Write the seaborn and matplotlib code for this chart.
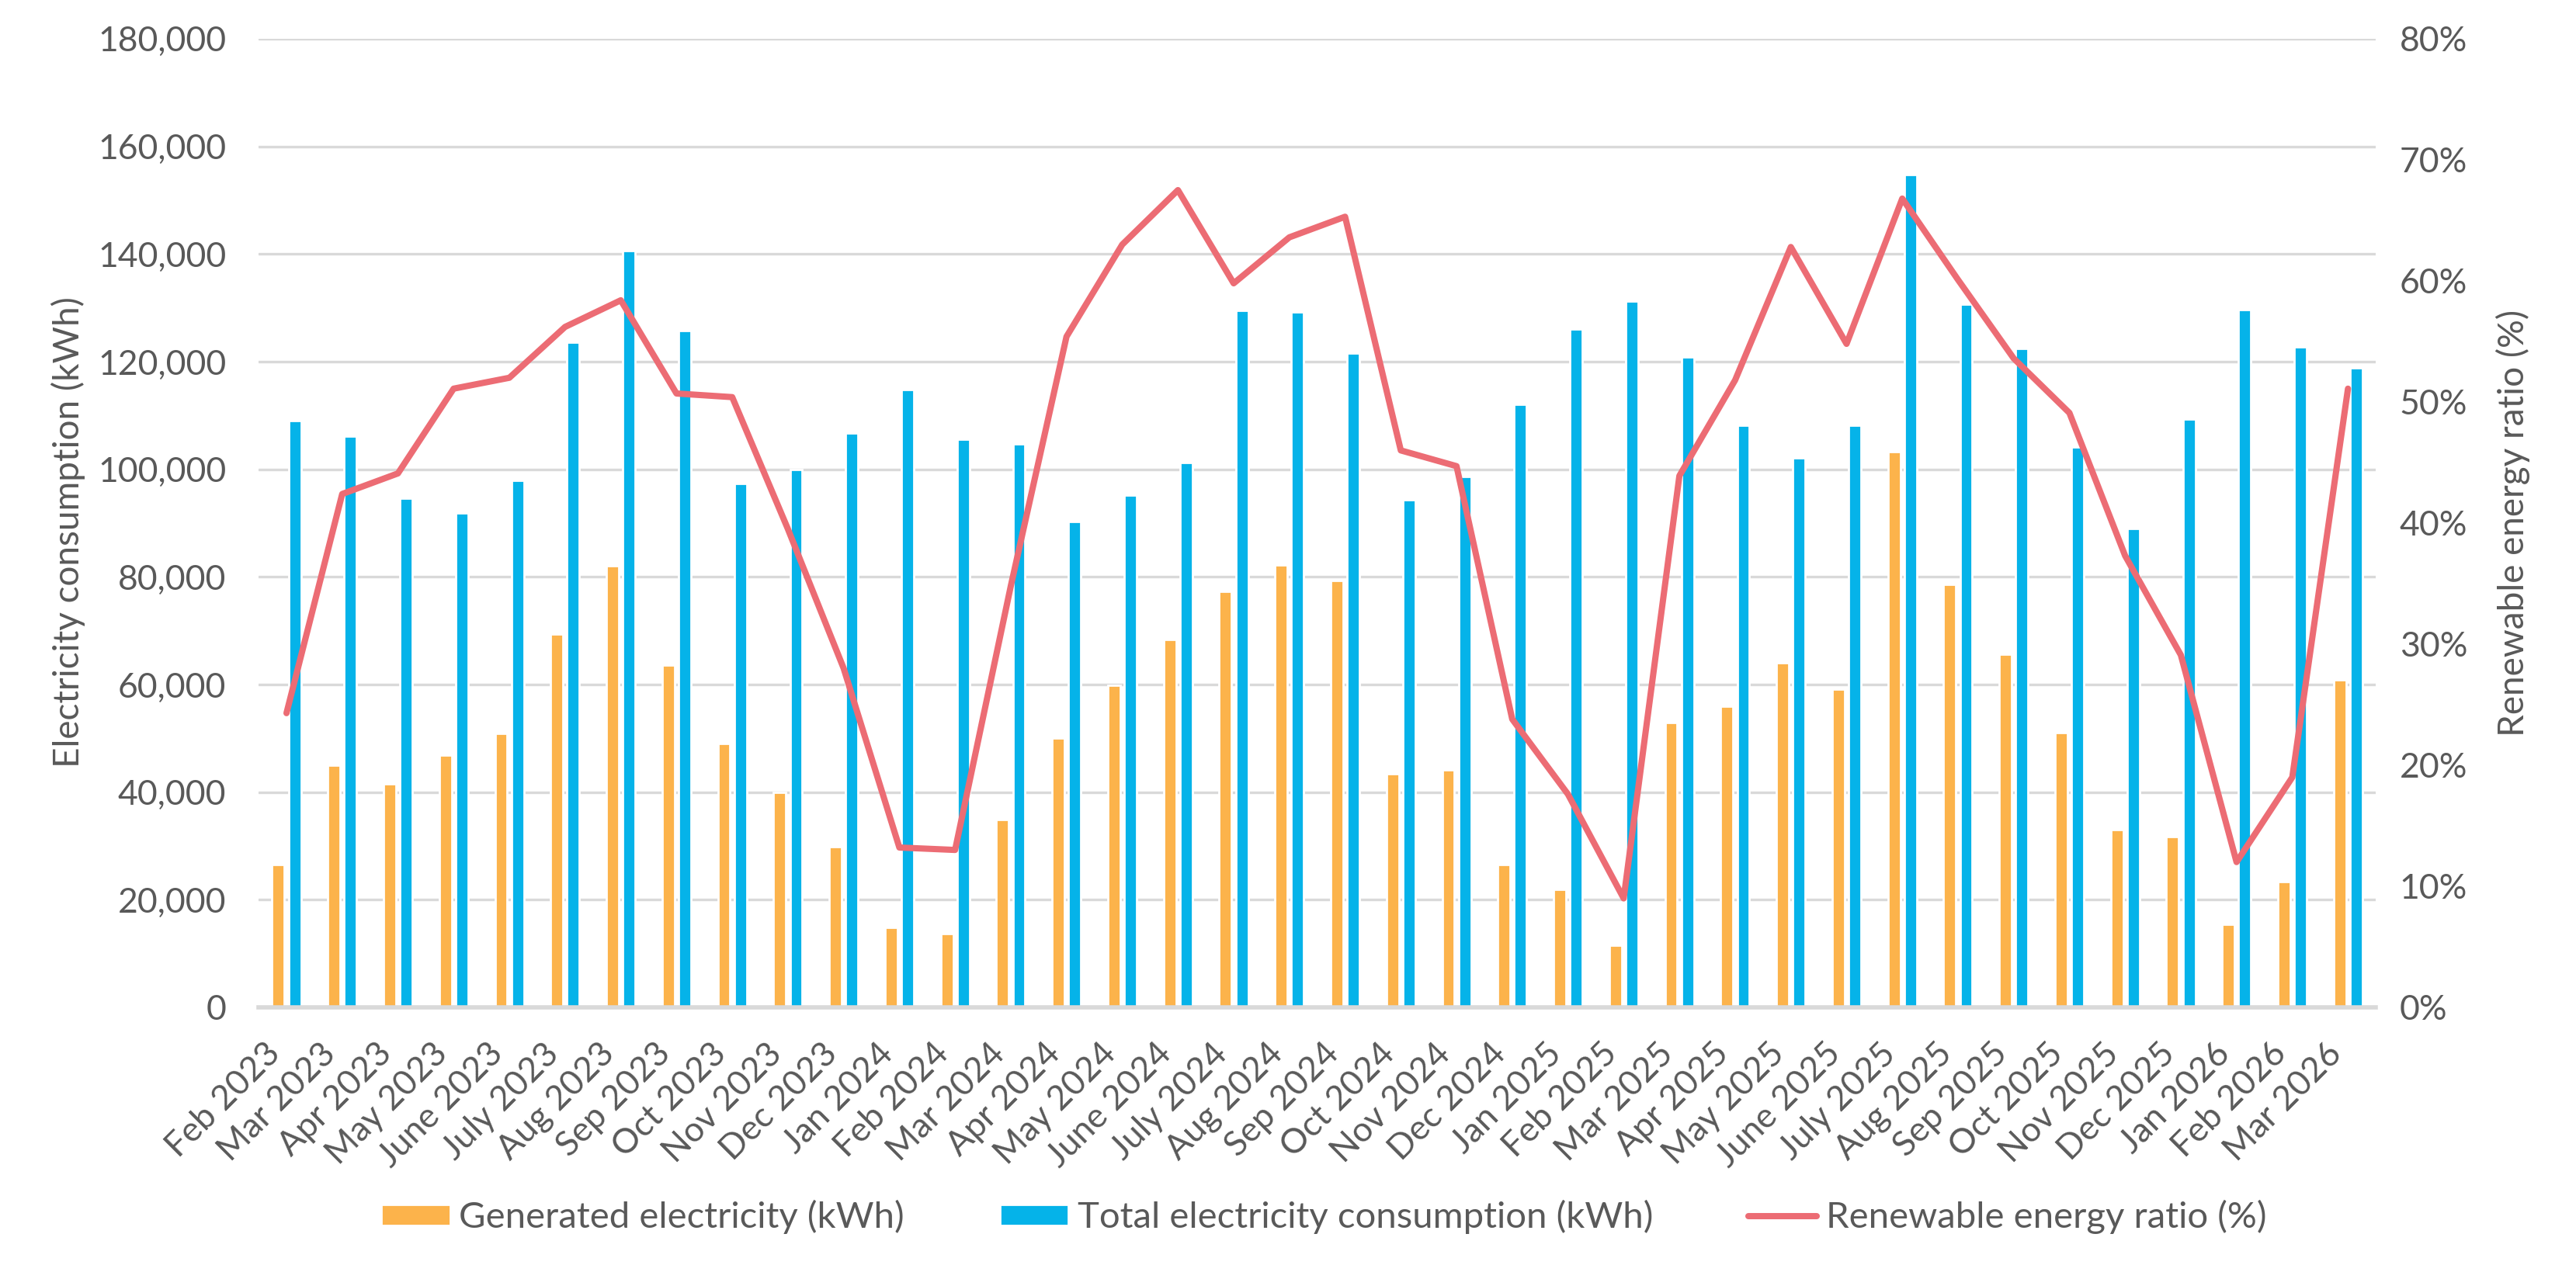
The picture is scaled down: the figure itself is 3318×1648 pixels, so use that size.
import matplotlib
matplotlib.use("Agg")
import matplotlib.pyplot as plt
import seaborn as sns
import numpy as np
import pandas as pd
from matplotlib.ticker import FuncFormatter, PercentFormatter, MultipleLocator

# ---------------- data ----------------
months = [
    "Feb 2023", "Mar 2023", "Apr 2023", "May 2023", "June 2023", "July 2023", "Aug 2023",
    "Sep 2023", "Oct 2023", "Nov 2023", "Dec 2023",
    "Jan 2024", "Feb 2024", "Mar 2024", "Apr 2024", "May 2024", "June 2024", "July 2024",
    "Aug 2024", "Sep 2024", "Oct 2024", "Nov 2024", "Dec 2024",
    "Jan 2025", "Feb 2025", "Mar 2025", "Apr 2025", "May 2025", "June 2025", "July 2025",
    "Aug 2025", "Sep 2025", "Oct 2025", "Nov 2025", "Dec 2025",
    "Jan 2026", "Feb 2026", "Mar 2026",
]
generated = [
    26600, 45000, 41500, 46800, 50900, 69400, 82100, 63600, 49100, 40000, 29900,
    14900, 13700, 34900, 50000, 59800, 68400, 77300, 82200, 79300, 43400, 44100, 26600,
    21900, 11600, 52900, 55900, 64100, 59100, 103300, 78600, 65600, 51000, 33000, 31700,
    15400, 23400, 60800,
]
total = [
    109000, 106100, 94600, 91800, 97900, 123600, 140600, 125700, 97400, 100000, 106700,
    114800, 105500, 104700, 90300, 95200, 101200, 129500, 129200, 121600, 94300, 98600, 112100,
    126000, 131300, 120800, 108100, 102100, 108200, 154700, 130700, 122500, 104100, 89000, 109300,
    129700, 122700, 118800,
]
ratio_pct = [
    24.3, 42.4, 44.1, 51.1, 52.0, 56.2, 58.4, 50.7, 50.4, 39.5, 28.0,
    13.2, 13.0, 34.8, 55.4, 63.0, 67.5, 59.8, 63.6, 65.3, 46.0, 44.7, 23.8,
    17.6, 9.0, 43.9, 51.8, 62.8, 54.8, 66.8, 60.1, 53.6, 49.1, 37.3, 29.1,
    12.0, 19.0, 51.1,
]
gen_label = "Generated electricity (kWh)"
tot_label = "Total electricity consumption (kWh)"
ratio_label = "Renewable energy ratio (%)"
left_axis_label = "Electricity consumption (kWh)"

# ---------------- style ----------------
ORANGE = "#FCB34B"
BLUE = "#05B3E9"
RED = "#EC6C74"
TEXT = "#595959"
GRID = "#D9D9D9"

sns.set_theme(style="white")
plt.rcParams["font.family"] = ["Lato", "DejaVu Sans"]

n = len(months)
df = pd.DataFrame({
    "month": months * 2,
    "series": [gen_label] * n + [tot_label] * n,
    "value": generated + total,
})

fig = plt.figure(figsize=(3318 / 200, 1648 / 200), dpi=200)
ax = fig.add_axes([0.1004, 0.2124, 0.8219, 0.7573])

sns.barplot(data=df, x="month", y="value", hue="series", order=months,
            hue_order=[gen_label, tot_label], palette=[ORANGE, BLUE],
            width=0.59, gap=0.25, saturation=1, ax=ax, legend=True)
bar_handles, bar_labels = ax.get_legend_handles_labels()
if ax.get_legend() is not None:
    ax.get_legend().remove()

ax.set_ylim(0, 180000)
ax.yaxis.set_major_locator(MultipleLocator(20000))
ax.yaxis.set_major_formatter(FuncFormatter(lambda v, p: f"{int(v):,}"))
ax.set_axisbelow(True)
ax.grid(axis="y", color=GRID, lw=1.2)
ax.grid(axis="x", visible=False)
for s in ["top", "left", "right"]:
    ax.spines[s].set_visible(False)
ax.spines["bottom"].set_color(GRID)
ax.spines["bottom"].set_linewidth(2.0)
ax.set_xlabel("")
ax.set_ylabel("")
ax.tick_params(axis="both", length=0, colors=TEXT, labelsize=16)
ax.tick_params(axis="y", pad=15)
ax.tick_params(axis="x", pad=14)
plt.setp(ax.get_xticklabels(), rotation=45, ha="right")

ax2 = ax.twinx()
ratio = [r / 100 for r in ratio_pct]
sns.lineplot(x=np.arange(n), y=ratio, ax=ax2, color=RED, lw=2.9, legend=False)
line = ax2.lines[0]
line.set_solid_capstyle("round")
line.set_solid_joinstyle("round")
ax2.set_ylim(0, 0.8)
ax2.yaxis.set_major_locator(MultipleLocator(0.1))
ax2.yaxis.set_major_formatter(PercentFormatter(1.0, decimals=0))
for s in ax2.spines.values():
    s.set_visible(False)
ax2.tick_params(axis="y", length=0, colors=TEXT, labelsize=16, pad=11)
ax2.set_ylabel("")
ax2.grid(False)
ax.set_xlim(-0.5, n - 0.5)

fig.text(0.0265, 0.5843, left_axis_label, rotation=90, ha="center", va="center",
         fontsize=16.5, color=TEXT)
fig.text(0.9756, 0.591, ratio_label, rotation=90, ha="center", va="center",
         fontsize=16.5, color=TEXT)

fig.legend(handles=[bar_handles[0], bar_handles[1], line],
           labels=[gen_label, tot_label, ratio_label],
           loc="center", bbox_to_anchor=(0.514, 0.0485), ncol=3, frameon=False,
           fontsize=17, handlelength=1.87, handleheight=0.5, handletextpad=0.25,
           columnspacing=2.6, labelcolor=TEXT)

fig.savefig("out.png", dpi=200, facecolor="white")
